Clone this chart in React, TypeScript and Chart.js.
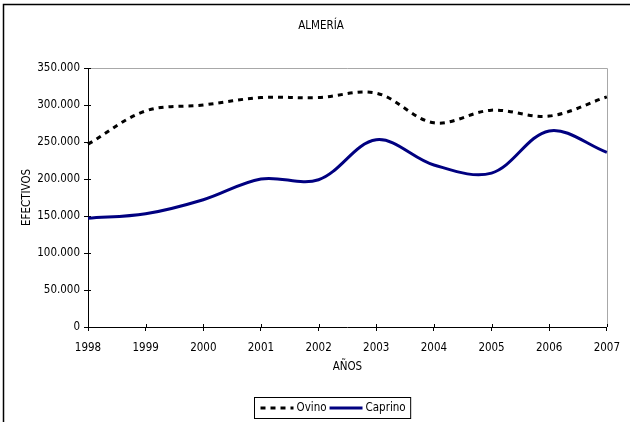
import React, { useEffect, useRef } from 'react';
import { Chart, registerables } from 'chart.js';

Chart.register(...registerables);

// ---- data ----
const years = ['1998', '1999', '2000', '2001', '2002', '2003', '2004', '2005', '2006', '2007'];
const ovino = [247000, 292000, 300000, 310000, 310000, 316000, 276000, 293000, 285000, 311000];
const caprino = [147000, 153000, 172000, 200000, 199000, 253000, 219000, 208000, 265000, 236000];
const yMin = 0;
const yMax = 350000;
const yStep = 50000;
const chartTitle = 'ALMERÍA';
const yTitle = 'EFECTIVOS';
const xTitle = 'AÑOS';
const seriesNames = ['Ovino', 'Caprino'];

const FONT = "'Liberation Sans Narrow', 'Arial Narrow', 'DejaVu Sans Condensed', sans-serif";
const FS = 11.5;

const fmt = (v: number) => String(Math.round(v)).replace(/\B(?=(\d{3})+(?!\d))/g, '.');

const decor = {
  id: 'decor',
  beforeDatasetsDraw(chart: any) {
    const { ctx, chartArea: a, scales } = chart;
    ctx.save();
    // plot area grey top / right border
    ctx.strokeStyle = '#a8a8a8';
    ctx.lineWidth = 1;
    ctx.beginPath();
    ctx.moveTo(a.left, Math.round(a.top) + 0.5);
    ctx.lineTo(Math.round(a.right) + 0.5, Math.round(a.top) + 0.5);
    ctx.lineTo(Math.round(a.right) + 0.5, a.bottom);
    ctx.stroke();
    // inner halves of the crossing tick marks
    ctx.strokeStyle = '#000';
    ctx.beginPath();
    scales.y.ticks.forEach((t: any) => {
      const py = Math.round(scales.y.getPixelForValue(t.value)) + 0.5;
      ctx.moveTo(a.left, py);
      ctx.lineTo(a.left + 3, py);
    });
    scales.x.ticks.forEach((_t: any, i: number) => {
      const px = Math.round(scales.x.getPixelForTick(i)) + 0.5;
      ctx.moveTo(px, a.bottom);
      ctx.lineTo(px, a.bottom - 3);
    });
    ctx.stroke();
    ctx.restore();
  },
  afterDraw(chart: any) {
    const { ctx } = chart;
    ctx.save();
    // outer chart frame (left & top visible)
    ctx.strokeStyle = '#000';
    ctx.lineWidth = 1.5;
    ctx.beginPath();
    ctx.moveTo(3.5, 430);
    ctx.lineTo(3.5, 4.5);
    ctx.lineTo(640, 4.5);
    ctx.stroke();

    // title
    ctx.fillStyle = '#000';
    ctx.font = `${FS}px ${FONT}`;
    ctx.textAlign = 'center';
    ctx.textBaseline = 'middle';
    ctx.fillText(chartTitle, 321, 26);

    // legend
    const ds = chart.data.datasets;
    const sample = 33;
    const w0 = ctx.measureText(ds[0].label).width;
    const w1 = ctx.measureText(ds[1].label).width;
    const boxW = 6 + sample + 3 + w0 + 3 + sample + 3 + w1 + 5;
    const boxH = 21;
    const cx = 332;
    const left = Math.round(cx - boxW / 2) + 0.5;
    const top = 397.5;
    ctx.lineWidth = 1;
    ctx.strokeStyle = '#000';
    ctx.strokeRect(left, top, boxW, boxH);
    const my = top + boxH / 2;
    let x = left + 6;
    ds.forEach((d: any, i: number) => {
      ctx.save();
      ctx.strokeStyle = d.borderColor;
      ctx.lineWidth = d.borderWidth;
      ctx.setLineDash(d.borderDash || []);
      ctx.beginPath();
      ctx.moveTo(x, my);
      ctx.lineTo(x + sample, my);
      ctx.stroke();
      ctx.restore();
      x += sample + 3;
      ctx.textAlign = 'left';
      ctx.fillStyle = '#000';
      ctx.fillText(d.label, x, my + 0.5);
      x += (i === 0 ? w0 : w1) + 3;
    });
    ctx.restore();
  },
};

export default function App() {
  const ref = useRef<HTMLCanvasElement | null>(null);

  useEffect(() => {
    if (!ref.current) return;
    const chart = new Chart(ref.current, {
      type: 'line',
      data: {
        labels: years,
        datasets: [
          {
            label: seriesNames[0],
            data: ovino,
            borderColor: '#000000',
            borderWidth: 3,
            borderDash: [5, 5],
            borderCapStyle: 'butt',
            pointRadius: 0,
            tension: 0.35,
            fill: false,
          },
          {
            label: seriesNames[1],
            data: caprino,
            borderColor: '#000080',
            borderWidth: 3,
            pointRadius: 0,
            tension: 0.35,
            fill: false,
          },
        ],
      },
      options: {
        animation: false,
        responsive: false,
        devicePixelRatio: 1,
        events: [],
        layout: { padding: { left: 12, right: 17, top: 68, bottom: 35 } },
        plugins: {
          legend: { display: false },
          title: { display: false },
          tooltip: { enabled: false },
        },
        scales: {
          x: {
            type: 'category',
            offset: false,
            grid: {
              offset: false,
              display: true,
              drawOnChartArea: false,
              drawTicks: true,
              tickLength: 4,
              color: '#000',
            },
            border: { display: true, color: '#000', width: 1 },
            ticks: {
              color: '#000',
              font: { family: FONT, size: FS },
              padding: 10,
              maxRotation: 0,
              autoSkip: false,
            },
            title: {
              display: true,
              text: xTitle,
              color: '#000',
              font: { family: FONT, size: FS },
              padding: { top: 0, bottom: 13 },
            },
            afterFit: (s: any) => {
              s.height = 60;
            },
          },
          y: {
            min: yMin,
            max: yMax,
            grid: {
              display: true,
              drawOnChartArea: false,
              drawTicks: true,
              tickLength: 4,
              color: '#000',
            },
            border: { display: true, color: '#000', width: 1 },
            ticks: {
              stepSize: yStep,
              color: '#000',
              font: { family: FONT, size: FS },
              padding: 4,
              callback: (v: any) => fmt(Number(v)),
            },
            title: {
              display: true,
              text: yTitle,
              color: '#000',
              font: { family: FONT, size: FS },
              padding: { top: 8, bottom: 0 },
            },
            afterFit: (s: any) => {
              s.width = 76;
            },
          },
        },
      },
      plugins: [decor],
    } as any);
    return () => chart.destroy();
  }, []);

  return (
    <div style={{ position: 'fixed', left: 0, top: 0, width: 630, height: 422, overflow: 'hidden', background: '#fff' }}>
      <canvas ref={ref} width={630} height={422} style={{ display: 'block', width: 630, height: 422 }} />
    </div>
  );
}
